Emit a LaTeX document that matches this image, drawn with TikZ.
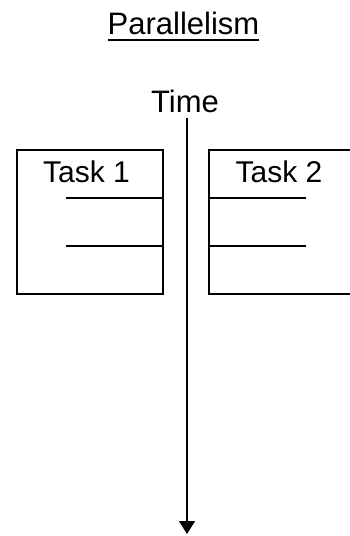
\documentclass[tikz,border=0pt]{standalone}
\usepackage{fontspec}
\setmainfont{Liberation Sans}
\usetikzlibrary{arrows.meta,calc}
\begin{document}
\begin{tikzpicture}[x=1pt,y=-1pt,
  stroke/.style={line width=1.3pt,black},
  label/.style={inner sep=0pt,anchor=base,font=\fontsize{30}{30}\selectfont}]
\useasboundingbox (0,0) rectangle (350,536);
% title
\node[label,font=\fontsize{31}{31}\selectfont] (title) at (183.5,34) {Parallelism};
\draw[line width=1.1pt] ($(title.base west)+(0,6)$) -- ($(title.base east)+(0,6)$);
% time axis
\node[label,font=\fontsize{31}{31}\selectfont] (time) at (185,112) {Time};
\coordinate (tstart) at (187,118);
\coordinate (tend) at (187,534);
\draw[stroke,-{Triangle[width=16pt 0,length=13pt 0]}] (tstart) -- (tend);
% task 1 box
\node[draw,stroke,minimum width=146pt,minimum height=144pt,inner sep=0pt] (box1) at (90,222) {};
\node[label] (task1) at (86.5,182) {Task 1};
\coordinate (a1) at (66,198);
\coordinate (b1) at (66,246);
\draw[stroke] (a1) -- (a1 -| box1.east);
\draw[stroke] (b1) -- (b1 -| box1.east);
% task 2 box, running off the right edge
\coordinate (box2nw) at (209,150);
\coordinate (box2sw) at (209,294);
\draw[stroke] (352,150) -- (box2nw) -- (box2sw) -- (352,294);
\node[label] (task2) at (279,182) {Task 2};
\coordinate (a2) at (306,198);
\coordinate (b2) at (306,246);
\draw[stroke] (a2 -| box2nw) -- (a2);
\draw[stroke] (b2 -| box2nw) -- (b2);
\end{tikzpicture}
\end{document}
